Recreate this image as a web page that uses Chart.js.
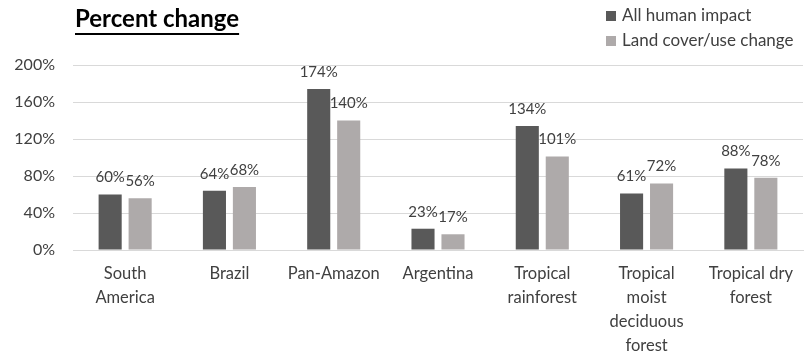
<!DOCTYPE html>
<html>
<head>
<meta charset="utf-8">
<script src="https://cdn.jsdelivr.net/npm/chart.js@4/dist/chart.umd.min.js"></script>
<style>
  html, body { margin: 0; padding: 0; background: #fff; }
  #wrap { width: 811px; height: 352px; }
</style>
</head>
<body>
<div id="wrap"><canvas id="change"></canvas></div>
<script>
// 区域 / 森林类型
const regions = [
    ['South', 'America'],
    'Brazil',
    'Pan-Amazon',
    'Argentina',
    ['Tropical', 'rainforest'],
    ['Tropical', 'moist', 'deciduous', 'forest'],
    ['Tropical dry', 'forest']
];
const allHumanImpact = [60, 64, 174, 23, 134, 61, 88];
const landCoverChange = [56, 68, 140, 17, 101, 72, 78];
const yTicks = [0, 40, 80, 120, 160, 200];

const FONT = 'Lato, "Open Sans", sans-serif';
const TEXT = '#404040';

// 柱顶数值标签
const barValues = {
    id: 'barValues',
    afterDatasetsDraw(chart) {
        const { ctx } = chart;
        ctx.save();
        ctx.font = `15px ${FONT}`;
        ctx.fillStyle = TEXT;
        ctx.textAlign = 'center';
        ctx.textBaseline = 'middle';
        chart.data.datasets.forEach((ds, i) => {
            chart.getDatasetMeta(i).data.forEach((bar, j) => {
                ctx.fillText(ds.data[j] + '%', bar.x, bar.y - 17);
            });
        });
        ctx.restore();
    }
};

// 左上角标题 + 右上角图例
const header = {
    id: 'header',
    afterDraw(chart) {
        const { ctx } = chart;
        ctx.save();
        ctx.font = `bold 24px ${FONT}`;
        ctx.fillStyle = '#000';
        ctx.textBaseline = 'middle';
        const title = 'Percent change';
        ctx.fillText(title, 75, 19);
        const w = ctx.measureText(title).width;
        ctx.fillRect(75, 33, w, 2);

        ctx.font = `17px ${FONT}`;
        chart.data.datasets.forEach((ds, i) => {
            const y = 16 + i * 25;
            ctx.fillStyle = ds.backgroundColor;
            ctx.fillRect(606, y - 5, 10, 10);
            ctx.fillStyle = TEXT;
            ctx.fillText(ds.label, 622, y);
        });
        ctx.restore();
    }
};

new Chart(
    document.getElementById('change'),
    {
        type: 'bar',
        plugins: [barValues, header],
        data: {
            labels: regions,
            datasets: [
                {
                    label: 'All human impact',
                    data: allHumanImpact,
                    backgroundColor: '#595959'
                },
                {
                    label: 'Land cover/use change',
                    data: landCoverChange,
                    backgroundColor: '#AEAAAA'
                }
            ]
        },
        options: {
            responsive: true,
            maintainAspectRatio: false,
            animation: false,
            categoryPercentage: 0.575,
            barPercentage: 0.77,
            layout: { padding: { top: 65, right: 8, left: 0, bottom: 0 } },
            plugins: {
                legend: { display: false },
                tooltip: { enabled: false }
            },
            scales: {
                x: {
                    grid: { display: false, drawTicks: false },
                    border: { color: '#D9D9D9', width: 1 },
                    ticks: {
                        color: TEXT,
                        font: { family: FONT, size: 16.5, lineHeight: 1.45 },
                        padding: 12,
                        maxRotation: 0,
                        autoSkip: false
                    },
                    afterFit: scale => { scale.height = 102; }
                },
                y: {
                    min: 0,
                    max: 200,
                    afterBuildTicks: scale => {
                        scale.ticks = yTicks.map(v => ({ value: v }));
                    },
                    grid: { color: '#D9D9D9', drawTicks: false },
                    border: { display: false },
                    ticks: {
                        color: TEXT,
                        font: { family: FONT, size: 16 },
                        padding: 18,
                        callback: value => `${value}%`
                    },
                    afterFit: scale => { scale.width = 73; }
                }
            }
        }
    }
);
</script>
</body>
</html>
